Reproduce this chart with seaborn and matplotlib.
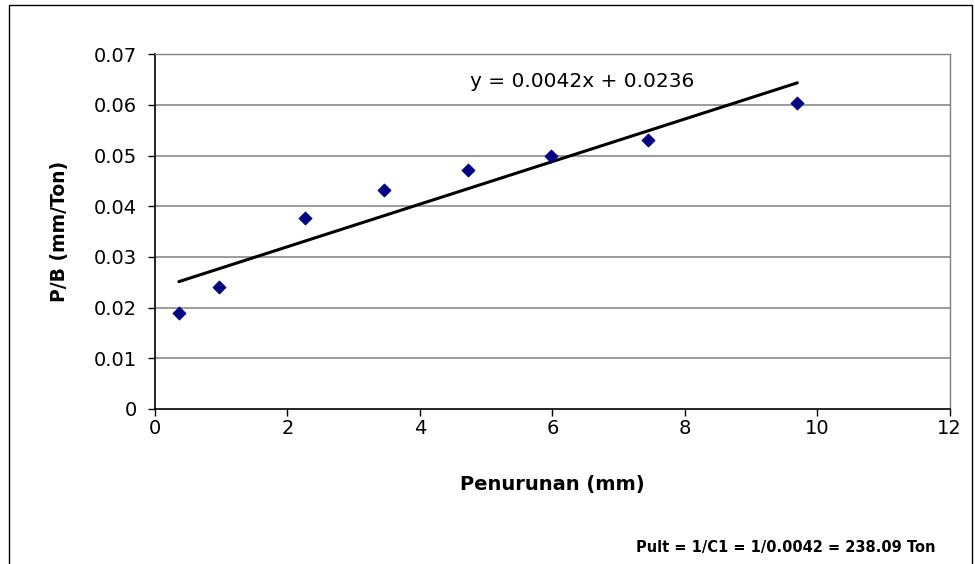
import matplotlib
matplotlib.use("Agg")
import matplotlib.pyplot as plt
import numpy as np
import pandas as pd
import seaborn as sns
from matplotlib.patches import Rectangle

# data
penurunan = [0.36, 0.96, 2.27, 3.46, 4.72, 5.98, 7.45, 9.70]
p_per_b = [0.0190, 0.0241, 0.0377, 0.0432, 0.0471, 0.0499, 0.0531, 0.0604]
slope = 0.0042
intercept = 0.0236
x_ticks = [0, 2, 4, 6, 8, 10, 12]
y_ticks = [0, 0.01, 0.02, 0.03, 0.04, 0.05, 0.06, 0.07]
y_tick_labels = ["0", "0.01", "0.02", "0.03", "0.04", "0.05", "0.06", "0.07"]
note = "Pult = 1/C1 = 1/0.0042 = 238.09 Ton"

df = pd.DataFrame({"x": penurunan, "y": p_per_b})
trend = pd.DataFrame({"x": [min(penurunan), max(penurunan)]})
trend["y"] = slope * trend["x"] + intercept

sns.set_style("white")
plt.rcParams["font.family"] = ["DejaVu Sans"]
plt.rcParams["text.color"] = "black"
plt.rcParams["axes.labelcolor"] = "black"
plt.rcParams["xtick.color"] = "black"
plt.rcParams["ytick.color"] = "black"

fig = plt.figure(figsize=(9.75, 5.64), dpi=100)
ax = fig.add_axes([0.159, 0.275, 0.815, 0.629])

for yv in y_ticks[1:]:
    ax.axhline(yv, color="#808080", lw=1.1, zorder=0)

sns.lineplot(data=trend, x="x", y="y", ax=ax, color="black", lw=2.2, zorder=2)
sns.scatterplot(data=df, x="x", y="y", ax=ax, marker="D", s=45,
                color="#000080", edgecolor="#000080", zorder=3)

ax.set_xlim(0, 12)
ax.set_ylim(0, 0.07)
ax.set_xticks(x_ticks)
ax.set_xticklabels([str(t) for t in x_ticks])
ax.set_yticks(y_ticks)
ax.set_yticklabels(y_tick_labels)
ax.tick_params(axis="both", direction="out", length=5, width=1, color="black",
               labelcolor="black", labelsize=14, bottom=True, left=True)
ax.tick_params(axis="x", pad=2)
ax.tick_params(axis="y", pad=8)

for side in ["left", "bottom"]:
    ax.spines[side].set_color("black")
    ax.spines[side].set_linewidth(1.2)
for side in ["top", "right"]:
    ax.spines[side].set_color("#808080")
    ax.spines[side].set_linewidth(1)

ax.set_xlabel("Penurunan (mm)", fontsize=14, fontweight="bold", labelpad=27,
              color="black")
ax.set_ylabel("P/B (mm/Ton)", fontsize=13.5, fontweight="bold", labelpad=18,
              color="black")

ax.text(6.45, 0.0647, f"y = {slope}x + {intercept}", fontsize=14.5,
        ha="center", va="center", color="black")

fig.text(0.806, 0.030, note, fontsize=10.5, fontweight="bold",
         ha="center", va="center", color="black")

fig.patches.append(Rectangle((0.009, -0.02), 0.988, 1.012, transform=fig.transFigure,
                             fill=False, edgecolor="black", lw=1))

fig.savefig("out.png", dpi=100)
